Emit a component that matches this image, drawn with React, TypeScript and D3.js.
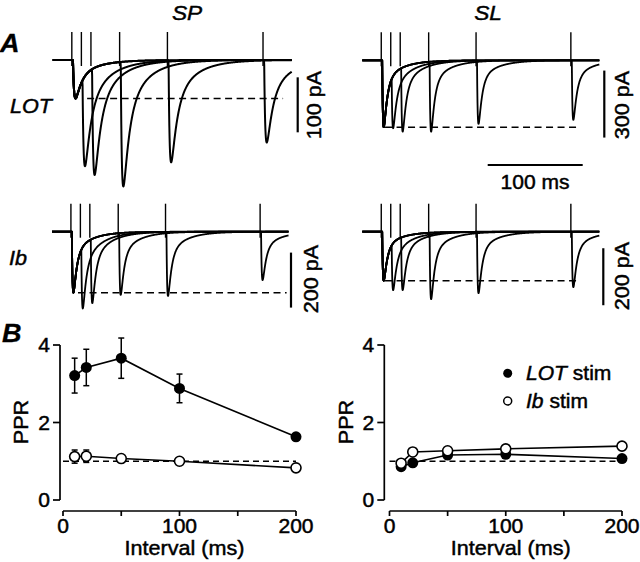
import React from "react";
import * as d3 from "d3";

const W = 640;
const H = 562;
const FONT = "'Liberation Sans', Arial, Helvetica, sans-serif";

// ---------- Panel A data (pA) ----------
const intervals = [10, 20, 50, 100, 200]; // ms between stimuli
const stim1Time = 20; // ms into sweep
const sweepLength = 250; // ms
const spLotFirst = 70;
const spLotSecond = [193, 209, 230, 186, 150];
const slLotFirst = 300;
const slLotSecond = [304, 320, 320, 285, 267];
const spIbFirst = 222;
const spIbSecond = [279, 260, 230, 234, 176];
const slIbFirst = 172;
const slIbSecond = [205, 205, 237, 216, 195];

// ---------- Panel B data ----------
const pprInterval = [10, 20, 50, 100, 200];
const spLotPPR = [3.21, 3.42, 3.66, 2.88, 1.63];
const spLotErr = [0.45, 0.47, 0.52, 0.37, 0.0];
const spIbPPR = [1.12, 1.13, 1.07, 1.0, 0.83];
const spIbErr = [0.17, 0.16, 0.05, 0.0, 0.0];
const slLotPPR = [0.86, 0.96, 1.16, 1.18, 1.07];
const slIbPPR = [0.95, 1.24, 1.27, 1.32, 1.39];
const xTickLabels = [0, 100, 200];
const xMinorTicks = [50, 150];
const yTickLabels = [0, 2, 4];

type Kin = { tauR: number; tauF: number; tauS: number; fracF: number; delay: number };

function makeKernel(k: Kin) {
  const raw = (t: number) =>
    t <= 0
      ? 0
      : (1 - Math.exp(-t / k.tauR)) *
        (k.fracF * Math.exp(-t / k.tauF) + (1 - k.fracF) * Math.exp(-t / k.tauS));
  let peak = 0;
  let tPeak = 0;
  for (let t = 0; t < 60; t += 0.02) {
    const v = raw(t);
    if (v > peak) {
      peak = v;
      tPeak = t;
    }
  }
  const f = (t: number) => raw(t - k.delay) / peak;
  return { f, tPeak: tPeak + k.delay };
}

type TracePanel = {
  first: number;
  second: number[];
  x0: number;
  x1: number;
  base: number;
  pxPerPA: number;
  kin: Kin;
  dashFrom: number;
  dashTo: number;
  barX: number;
  barTop: number;
  barLen: number;
  barLabel: string;
  labelX: number;
  labelY: number;
  sw: number;
};

const panels: TracePanel[] = [
  {
    first: spLotFirst, second: spLotSecond, x0: 52.7, x1: 291.7, base: 60, pxPerPA: 0.55,
    kin: { tauR: 1.4, tauF: 6, tauS: 22, fracF: 0.7, delay: 1.2 },
    dashFrom: 36, dashTo: 241, barX: 297.7, barTop: 31.5, barLen: 100, barLabel: "100 pA",
    labelX: 321, labelY: 105, sw: 2,
  },
  {
    first: slLotFirst, second: slLotSecond, x0: 362.3, x1: 599.3, base: 60.3, pxPerPA: 0.2233,
    kin: { tauR: 0.9, tauF: 3.5, tauS: 18, fracF: 0.8, delay: 1.0 },
    dashFrom: 24, dashTo: 230, barX: 604.3, barTop: 46, barLen: 300, barLabel: "300 pA",
    labelX: 629, labelY: 105, sw: 1.8,
  },
  {
    first: spIbFirst, second: spIbSecond, x0: 52, x1: 288.5, base: 231.7, pxPerPA: 0.275,
    kin: { tauR: 0.9, tauF: 3.5, tauS: 18, fracF: 0.78, delay: 1.0 },
    dashFrom: 27.5, dashTo: 248, barX: 291, barTop: 76, barLen: 200, barLabel: "200 pA",
    labelX: 318, labelY: 279, sw: 1.8,
  },
  {
    first: slIbFirst, second: slIbSecond, x0: 362.3, x1: 599.3, base: 231.7, pxPerPA: 0.285,
    kin: { tauR: 0.9, tauF: 3.5, tauS: 18, fracF: 0.8, delay: 1.0 },
    dashFrom: 24, dashTo: 230, barX: 603.3, barTop: 58, barLen: 200, barLabel: "200 pA",
    labelX: 629, labelY: 276, sw: 1.8,
  },
];

function T(props: {
  x: number; y: number; children: React.ReactNode; anchor?: string; size?: number;
  rotate?: number; italic?: boolean; bold?: boolean; sx?: number;
}) {
  const { x, y, children, anchor = "middle", size = 20, rotate = 0, italic, bold, sx = 1.08 } = props;
  return (
    <text
      transform={`translate(${x},${y}) rotate(${rotate}) scale(${sx},1)`}
      textAnchor={anchor}
      fontSize={size}
      fontFamily={FONT}
      fontStyle={italic ? "italic" : "normal"}
      fontWeight={bold ? "bold" : "normal"}
      fill="#000"
      stroke="#000"
      strokeWidth={bold ? 0.3 : 0.45}
    >
      {children}
    </text>
  );
}

function TraceGroup({ p }: { p: TracePanel }) {
  const xs = d3.scaleLinear().domain([0, sweepLength]).range([p.x0, p.x1]);
  const ys = d3.scaleLinear().domain([0, 1]).range([p.base, p.base + p.pxPerPA]);
  const { f, tPeak } = makeKernel(p.kin);
  const line = d3
    .line<[number, number]>()
    .x((d) => xs(d[0]))
    .y((d) => ys(d[1]));
  const artTop = p.base - 28;
  const times = d3.range(0, sweepLength + 0.001, 0.25);
  const sweeps = intervals.map((iv, i) => {
    const t2 = stim1Time + iv;
    const resid = p.first * f(t2 + tPeak - stim1Time);
    const amp2 = p.second[i] - resid;
    const pts: [number, number][] = times.map((t) => [
      t,
      p.first * f(t - stim1Time) + amp2 * f(t - t2),
    ]);
    return { t2, d: line(pts) || "" };
  });
  return (
    <g>
      {sweeps.map((s, i) => (
        <path key={"p" + i} d={s.d} fill="none" stroke="#000" strokeWidth={p.sw} strokeLinejoin="round" />
      ))}
      {[stim1Time, ...sweeps.map((s) => s.t2)].map((t, i) => (
        <line key={"a" + i} x1={xs(t)} x2={xs(t)} y1={artTop} y2={p.base + 6} stroke="#000" strokeWidth={1.4} />
      ))}
      <line
        x1={xs(p.dashFrom)} x2={xs(p.dashTo)} y1={ys(p.first)} y2={ys(p.first)}
        stroke="#000" strokeWidth={1.4} strokeDasharray="7,4.5"
      />
      <line
        x1={p.barX} x2={p.barX} y1={ys(p.barTop)} y2={ys(p.barTop + p.barLen)}
        stroke="#000" strokeWidth={2.2}
      />
      <T x={p.labelX} y={p.labelY} rotate={-90} size={20}>{p.barLabel}</T>
    </g>
  );
}

function PPRPanel(props: {
  x0: number; x1: number; axisX: number; lot: number[]; lotErr?: number[]; ib: number[];
  ibErr?: number[]; labelX: number; legend?: boolean;
}) {
  const { x0, x1, axisX, lot, lotErr, ib, ibErr, labelX, legend } = props;
  const xs = d3.scaleLinear().domain([0, 200]).range([x0, x1]);
  const ys = d3.scaleLinear().domain([0, 4]).range([500, 345]);
  const axisY = 511;
  const line = d3
    .line<number>()
    .x((_, i) => xs(pprInterval[i]))
    .y((d) => ys(d));
  const errBars = (vals: number[], errs?: number[]) =>
    errs
      ? vals.map((v, i) =>
          errs[i] > 0.06 ? (
            <g key={"e" + i}>
              <line x1={xs(pprInterval[i])} x2={xs(pprInterval[i])} y1={ys(v - errs[i])} y2={ys(v + errs[i])} stroke="#000" strokeWidth={1.5} />
              <line x1={xs(pprInterval[i]) - 3} x2={xs(pprInterval[i]) + 3} y1={ys(v + errs[i])} y2={ys(v + errs[i])} stroke="#000" strokeWidth={1.5} />
              <line x1={xs(pprInterval[i]) - 3} x2={xs(pprInterval[i]) + 3} y1={ys(v - errs[i])} y2={ys(v - errs[i])} stroke="#000" strokeWidth={1.5} />
            </g>
          ) : null
        )
      : null;
  return (
    <g>
      {/* axes */}
      <line x1={axisX} x2={axisX} y1={ys(4)} y2={ys(0)} stroke="#000" strokeWidth={1.7} />
      {yTickLabels.map((v) => (
        <g key={"y" + v}>
          <line x1={axisX - 7} x2={axisX} y1={ys(v)} y2={ys(v)} stroke="#000" strokeWidth={1.7} />
          <T x={axisX - 10} y={ys(v) + 7} anchor="end" size={19.5}>{v}</T>
        </g>
      ))}
      <line x1={xs(0)} x2={xs(200)} y1={axisY} y2={axisY} stroke="#000" strokeWidth={1.7} />
      {[...xTickLabels, ...xMinorTicks].map((v) => (
        <line key={"xt" + v} x1={xs(v)} x2={xs(v)} y1={axisY} y2={axisY + 5} stroke="#000" strokeWidth={1.7} />
      ))}
      {xTickLabels.map((v) => (
        <T key={"xl" + v} x={xs(v)} y={533} size={19.5}>{v}</T>
      ))}
      <T x={(xs(0) + xs(200)) / 2 + 5} y={555} size={20}>Interval (ms)</T>
      <T x={labelX} y={422} rotate={-90} size={20}>PPR</T>
      {/* reference line */}
      <line x1={xs(0)} x2={xs(200)} y1={ys(1)} y2={ys(1)} stroke="#000" strokeWidth={1.4} strokeDasharray="6,4" />
      {errBars(lot, lotErr)}
      {errBars(ib, ibErr)}
      <path d={line(lot) || ""} fill="none" stroke="#000" strokeWidth={1.6} />
      <path d={line(ib) || ""} fill="none" stroke="#000" strokeWidth={1.6} />
      {lot.map((v, i) => (
        <circle key={"l" + i} cx={xs(pprInterval[i])} cy={ys(v)} r={5.5} fill="#000" />
      ))}
      {ib.map((v, i) => (
        <circle key={"o" + i} cx={xs(pprInterval[i])} cy={ys(v)} r={5} fill="#fff" stroke="#000" strokeWidth={1.6} />
      ))}
      {legend ? (
        <g>
          <circle cx={507.7} cy={373.3} r={4.5} fill="#000" />
          <text transform="translate(526,380) scale(1.08,1)" fontSize={19.5} fontFamily={FONT} stroke="#000" strokeWidth={0.45}>
            <tspan fontStyle="italic">LOT</tspan>
            <tspan> stim</tspan>
          </text>
          <circle cx={507.7} cy={401} r={4} fill="#fff" stroke="#000" strokeWidth={1.5} />
          <text transform="translate(526,408) scale(1.08,1)" fontSize={19.5} fontFamily={FONT} stroke="#000" strokeWidth={0.45}>
            <tspan fontStyle="italic">Ib</tspan>
            <tspan> stim</tspan>
          </text>
        </g>
      ) : null}
    </g>
  );
}

export default function App() {
  return (
    <svg
      width={W}
      height={H}
      viewBox={`0 0 ${W} ${H}`}
      style={{ position: "absolute", left: 0, top: 0, display: "block", background: "#fff" }}
    >
      <rect width={W} height={H} fill="#fff" />
      <T x={187} y={20} size={21} italic>SP</T>
      <T x={488} y={20} size={21} italic>SL</T>
      <T x={0} y={52} size={25} italic bold anchor="start">A</T>
      <T x={2} y={342} size={25} italic bold anchor="start">B</T>
      <T x={10} y={113} size={20} italic anchor="start">LOT</T>
      <T x={9} y={265} size={20} italic anchor="start">Ib</T>
      {panels.map((p, i) => (
        <TraceGroup key={i} p={p} />
      ))}
      <line x1={487.7} x2={582.7} y1={165} y2={165} stroke="#000" strokeWidth={2.2} />
      <T x={535} y={189} size={19.5}>100 ms</T>
      <PPRPanel x0={63} x1={296} axisX={60} lot={spLotPPR} lotErr={spLotErr} ib={spIbPPR} ibErr={spIbErr} labelX={28} />
      <PPRPanel x0={389.5} x1={622} axisX={384.3} lot={slLotPPR} ib={slIbPPR} labelX={353} legend />
    </svg>
  );
}
